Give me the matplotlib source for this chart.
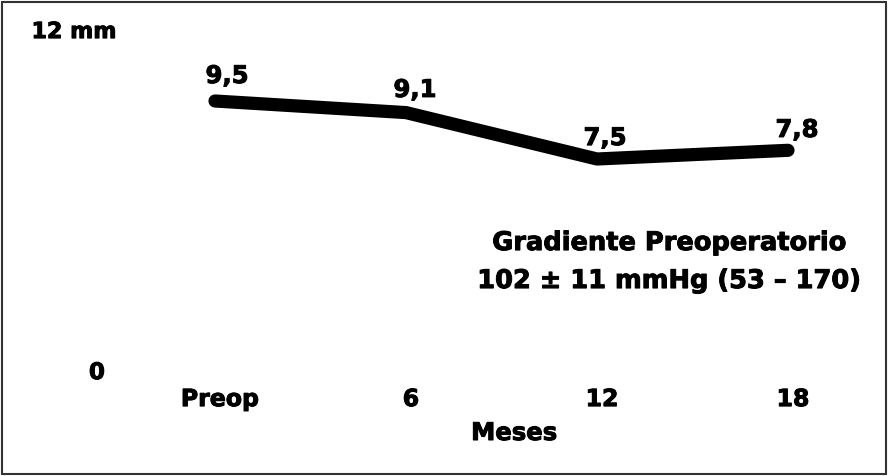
import matplotlib
matplotlib.use("Agg")
import matplotlib.pyplot as plt
import matplotlib.patheffects as pe
from matplotlib.patches import Rectangle

meses = ["Preop", "6", "12", "18"]
valores = [9.5, 9.1, 7.5, 7.8]
etiquetas = ["9,5", "9,1", "7,5", "7,8"]

plt.rcParams['font.family'] = ['DejaVu Sans']
plt.rcParams['font.weight'] = 'bold'

# texto un poco mas grueso, como en el original
grueso = [pe.withStroke(linewidth=0.7, foreground='black')]

fig = plt.figure(figsize=(8.91, 4.76), dpi=100)
ax = fig.add_axes([0, 0, 1, 1])
ax.set_axis_off()

# pixel mapping: x = 215 + 191*i, y = 376.5 - 29*v
ax.set_xlim(-215 / 191, (891 - 215) / 191)
ax.set_ylim((376.5 - 476) / 29, 376.5 / 29)

x = list(range(len(meses)))
ax.plot(x, valores, color='black', linewidth=9.5, solid_capstyle='round', solid_joinstyle='round')

# label offsets (dx, dy) above each point
offsets = [(0.063, 0.62), (0.047, 0.54), (0.042, 0.48), (0.047, 0.46)]
for i in x:
    dx, dy = offsets[i]
    ax.text(x[i] + dx, valores[i] + dy, etiquetas[i], ha='center', va='baseline',
            fontsize=17.5, path_effects=grueso)

for i in x:
    ax.text(x[i] + 0.026, -1.02, meses[i], ha='center', va='baseline',
            fontsize=17, path_effects=grueso)

ax.text(1.565, -2.19, "Meses", ha='center', va='baseline', fontsize=17.5, path_effects=grueso)
ax.text(-0.738, 11.67, "12 mm", ha='center', va='baseline', fontsize=16, path_effects=grueso)
ax.text(-0.618, -0.09, "0", ha='center', va='baseline', fontsize=16.5, path_effects=grueso)

ax.text(2.38, 4.36, "Gradiente Preoperatorio", ha='center', va='baseline',
        fontsize=18.5, path_effects=grueso)
ax.text(2.38, 3.05, "102 \u00b1 11 mmHg (53 \u2013 170)", ha='center', va='baseline',
        fontsize=18.5, path_effects=grueso)

fig.patches.append(Rectangle((2 / 891, 2 / 476), 884 / 891, 472 / 476, transform=fig.transFigure,
                             fill=False, edgecolor='#333333', linewidth=1.5))

fig.savefig("out.png", dpi=100)
